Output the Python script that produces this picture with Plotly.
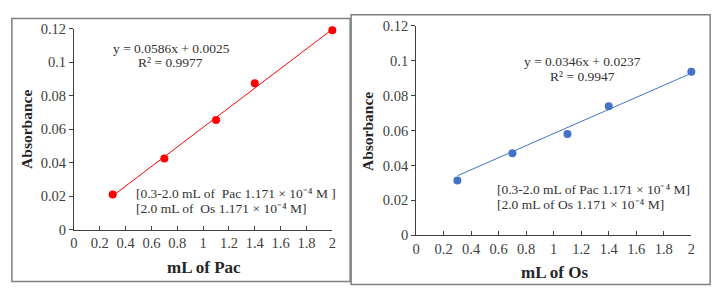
import plotly.graph_objects as go

# ---- data ----
pac_ml = [0.3, 0.7, 1.1, 1.4, 2.0]
pac_abs = [0.0209, 0.0425, 0.0655, 0.0875, 0.1192]
pac_slope, pac_icpt = 0.0586, 0.0025

os_ml = [0.3, 0.7, 1.1, 1.4, 2.0]
os_abs = [0.0314, 0.0470, 0.0581, 0.0739, 0.0938]
os_slope, os_icpt = 0.0346, 0.0237

x_ticks = [0, 0.2, 0.4, 0.6, 0.8, 1, 1.2, 1.4, 1.6, 1.8, 2]
x_ticklabels = ["0", "0.2", "0.4", "0.6", "0.8", "1", "1.2", "1.4", "1.6", "1.8", "2"]
y_ticks = [0, 0.02, 0.04, 0.06, 0.08, 0.1, 0.12]
y_ticklabels = ["0", "0.02", "0.04", "0.06", "0.08", "0.1", "0.12"]

W, H = 723, 300
FONT = "Liberation Serif"
RED = "#FF0000"
BLUE = "#4472C4"

def px(x):
    return x / W

def py(y):
    return 1 - y / H

fig = go.Figure()

# left panel
fig.add_trace(go.Scatter(
    x=[pac_ml[0], pac_ml[-1]],
    y=[pac_slope * pac_ml[0] + pac_icpt, pac_slope * pac_ml[-1] + pac_icpt],
    mode="lines", line=dict(color=RED, width=1), xaxis="x", yaxis="y",
    showlegend=False, cliponaxis=False))
fig.add_trace(go.Scatter(
    x=pac_ml, y=pac_abs, mode="markers",
    marker=dict(color=RED, size=8), xaxis="x", yaxis="y",
    showlegend=False, cliponaxis=False))

# right panel
fig.add_trace(go.Scatter(
    x=[os_ml[0], os_ml[-1]],
    y=[os_slope * os_ml[0] + os_icpt, os_slope * os_ml[-1] + os_icpt],
    mode="lines", line=dict(color=BLUE, width=1), xaxis="x2", yaxis="y2",
    showlegend=False, cliponaxis=False))
fig.add_trace(go.Scatter(
    x=os_ml, y=os_abs, mode="markers",
    marker=dict(color=BLUE, size=8), xaxis="x2", yaxis="y2",
    showlegend=False, cliponaxis=False))

axis_common = dict(
    showgrid=False, zeroline=False, showline=True, linecolor="#404040", linewidth=1,
    tickfont=dict(family=FONT, size=14.5, color="#404040"), ticklen=4, tickcolor="#404040",
)

fig.update_layout(
    width=W, height=H,
    margin=dict(l=0, r=0, t=0, b=0),
    paper_bgcolor="white", plot_bgcolor="white",
    xaxis=dict(domain=[px(70.7), px(332)], range=[0, 2], anchor="y",
               tickvals=x_ticks, ticktext=x_ticklabels, ticks="inside", **axis_common),
    yaxis=dict(domain=[py(234), py(22)], range=[0, 0.12], anchor="x",
               tickvals=y_ticks, ticktext=y_ticklabels, ticks="outside", **axis_common),
    xaxis2=dict(domain=[px(416.7), px(695)], range=[0, 2], anchor="y2",
                tickvals=x_ticks, ticktext=x_ticklabels, ticks="inside", **axis_common),
    yaxis2=dict(domain=[py(240), py(19)], range=[0, 0.12], anchor="x2",
                tickvals=y_ticks, ticktext=y_ticklabels, ticks="outside", **axis_common),
)

# panel borders
fig.add_shape(type="rect", xref="paper", yref="paper",
              x0=px(8), x1=px(350), y0=py(289), y1=py(11),
              line=dict(color="#7f7f7f", width=1.5))
fig.add_shape(type="rect", xref="paper", yref="paper",
              x0=px(351), x1=px(714), y0=py(292), y1=py(7),
              line=dict(color="#7f7f7f", width=1.5))

def ann(text, x, y, size=13.5, bold=False, xanchor="center", angle=0, color="#333333"):
    if bold:
        text = "<b>" + text + "</b>"
    fig.add_annotation(text=text, x=px(x), y=py(y), xref="paper", yref="paper",
                       xanchor=xanchor, yanchor="middle", showarrow=False, textangle=angle,
                       font=dict(family=FONT, size=size, color=color))

# left texts
ann(f"y = {pac_slope}x + {pac_icpt}", 169, 43)
ann("R² = 0.9977", 168, 58)
ann("[0.3-2.0 mL of  Pac 1.171 × 10⁻⁴ M ]", 131, 196, xanchor="left")
ann("[2.0 mL of  Os 1.171 × 10⁻⁴ M]", 131, 212, xanchor="left")
ann("mL of Pac", 202, 274, size=17, bold=True, color="#262626")
ann("Absorbance", 22, 128, size=15.5, bold=True, angle=-90, color="#262626")

# right texts
ann(f"y = {os_slope}x + {os_icpt}", 585, 57)
ann("R² = 0.9947", 585, 72)
ann("[0.3-2.0 mL of Pac 1.171 × 10⁻⁴ M]", 496, 192, xanchor="left")
ann("[2.0 mL of Os 1.171 × 10⁻⁴ M]", 496, 208, xanchor="left")
ann("mL of Os", 557, 279, size=17, bold=True, color="#262626")
ann("Absorbance", 367, 130, size=15.5, bold=True, angle=-90, color="#262626")

fig.write_html("out.html")
